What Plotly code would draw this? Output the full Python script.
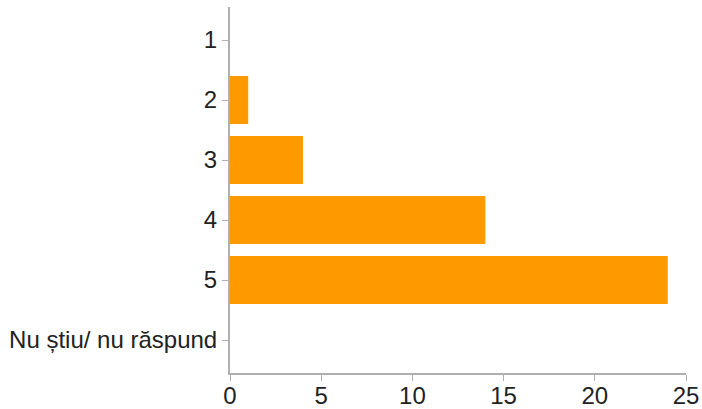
import plotly.graph_objects as go

categories = ["1", "2", "3", "4", "5", "Nu știu/ nu răspund"]
values = [0, 1, 4, 14, 24, 0]
x_ticks = [0, 5, 10, 15, 20, 25]

fig = go.Figure(go.Bar(
    x=values, y=categories, orientation="h",
    marker=dict(color="#ff9900", line=dict(width=0)),
    hoverinfo="x+y",
))

fig.update_layout(
    width=702, height=409,
    margin=dict(l=230, r=16, t=7, b=36),
    paper_bgcolor="white", plot_bgcolor="white",
    bargap=0.2, showlegend=False,
    font=dict(family="Liberation Sans, Arial, sans-serif", color="#222222"),
)
fig.update_yaxes(
    type="category", categoryorder="array", categoryarray=categories,
    range=[5.55, -0.55], autorange=False, automargin=False,
    showline=True, linecolor="#b0b0b0", linewidth=2,
    ticks="outside", ticklen=6, tickcolor="#b0b0b0", tickwidth=1,
    showgrid=False, zeroline=False,
    tickfont=dict(size=24, color="#222222"), ticklabelstandoff=0,
)
fig.update_xaxes(
    range=[0, 25], tickvals=x_ticks, ticktext=[str(v) for v in x_ticks],
    autorange=False, automargin=False,
    showline=True, linecolor="#b0b0b0", linewidth=2,
    ticks="outside", ticklen=6, tickcolor="#b0b0b0", tickwidth=1,
    showgrid=False, zeroline=False,
    tickfont=dict(size=24, color="#222222"), ticklabelstandoff=-6,
)

# remove the default 8px page margin so the figure fills the window exactly
fig.write_html(
    "out.html",
    config={"displayModeBar": False},
    post_script="document.body.style.margin='0';document.body.style.overflow='hidden';",
)
